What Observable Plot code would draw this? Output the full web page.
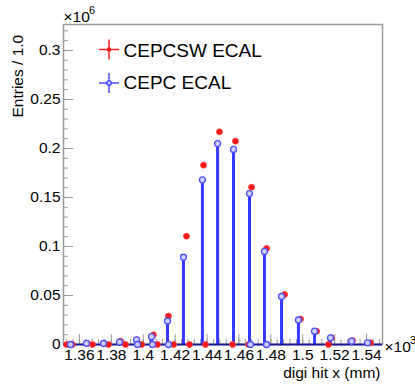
<!DOCTYPE html>
<html>
<head>
<meta charset="utf-8">
<script src="https://cdn.jsdelivr.net/npm/d3@7"></script>
<script src="https://cdn.jsdelivr.net/npm/@observablehq/plot@0.6"></script>
<style>
  html, body { margin: 0; padding: 0; background: #fff; }
  #chart { width: 415px; height: 385px; }
  svg { font-family: "Liberation Sans", Arial, Helvetica, sans-serif; }
</style>
</head>
<body>
<div id="chart"></div>
<script>
// ---- data (x in mm, y in entries) ----
const redX = [1351.9, 1355.6, 1365.0, 1368.2, 1375.1, 1378.2, 1385.7, 1388.9, 1395.8, 1399.0,
              1406.4, 1408.9, 1415.8, 1419.0, 1427.1, 1429.0, 1437.8, 1439.0, 1447.8, 1456.0,
              1457.8, 1466.0, 1467.9, 1477.3, 1488.6, 1498.6, 1508.7, 1516.1, 1518.0, 1531.2, 1542.5];
const redY = [0, 0, 1000, 0, 1200, 0, 3400, 0, 4800, 0,
              9900, 0, 29000, 0, 110500, 0, 183000, 0, 217000, 0,
              207500, 0, 160500, 98000, 51000, 26000, 13600, 0, 6800, 4000, 1700];

const blueX = [1354.4, 1364.4, 1375.1, 1385.1, 1395.8, 1396.4, 1405.2, 1405.8, 1415.2, 1415.8,
               1425.2, 1437.1, 1446.6, 1456.6, 1466.6, 1467.2, 1476.0, 1477.3, 1486.7, 1497.3,
               1507.4, 1517.4, 1530.6, 1540.6];
const blueY = [0, 1200, 1000, 2500, 4800, 0, 8000, 0, 24000, 0,
               89000, 168000, 205000, 199000, 154000, 0, 95000, 0, 49000, 25000,
               13600, 6800, 3400, 1700];

const xMajorTicks = d3.range(1360, 1541, 20);
const xMinorTicks = d3.range(1352, 1551, 4);
const yMajorTicks = d3.range(0, 300001, 50000);
const yMinorTicks = d3.range(0, 320001, 10000);
const seriesNames = ["CEPCSW ECAL", "CEPC ECAL"];
const xTitle = "digi hit x (mm)";
const yTitle = "Entries / 1.0";

const red = redX.map((x, i) => ({x, y: redY[i]}));
const blue = blueX.map((x, i) => ({x, y: blueY[i]}));

const cross = {
  draw(context, size) {
    const r = Math.sqrt(size / Math.PI);
    context.moveTo(-r, 0); context.lineTo(r, 0);
    context.moveTo(0, -r); context.lineTo(0, r);
  }
};

const FS = 15.5;
const grey = "#9a9a9a";

const plot = Plot.plot({
  width: 415,
  height: 385,
  marginLeft: 63,
  marginRight: 33,
  marginTop: 24,
  marginBottom: 41,
  style: {fontFamily: "Liberation Sans, Arial, Helvetica, sans-serif", background: "#fff"},
  x: {domain: [1350, 1550], axis: null},
  y: {domain: [0, 326500], axis: null},
  marks: [
    Plot.frame({stroke: grey, strokeWidth: 1.5}),
    // ticks (inside)
    Plot.axisX(xMinorTicks, {anchor: "bottom", tickSize: -5, tickFormat: () => "", stroke: grey, label: null}),
    Plot.axisX(xMajorTicks, {anchor: "bottom", tickSize: -10, tickFormat: () => "", stroke: grey, label: null}),
    Plot.axisY(yMinorTicks, {anchor: "left", tickSize: -5, tickFormat: () => "", stroke: grey, label: null}),
    Plot.axisY(yMajorTicks, {anchor: "left", tickSize: -10, tickFormat: () => "", stroke: grey, label: null}),
    // tick labels
    Plot.axisX(xMajorTicks, {anchor: "bottom", tickSize: 0, tickPadding: 4, fontSize: FS, fill: "#000",
      tickFormat: d => String(+(d / 1000).toFixed(2)), label: null}),
    Plot.axisY(yMajorTicks, {anchor: "left", tickSize: 0, tickPadding: 3, fontSize: FS, fill: "#000",
      tickFormat: d => d === 0 ? "0" : String(+(d / 1e6).toFixed(2)), label: null}),
    // blue histogram spikes
    Plot.ruleX(blue.filter(d => d.y > 0), {x: "x", y1: 0, y2: "y", stroke: "#3838ff", strokeWidth: 3}),
    Plot.ruleY([0], {stroke: "#1a1a99", strokeWidth: 2}),
    // red markers
    Plot.dot(red, {x: "x", y: "y", r: 3, fill: "#ff1515", stroke: "#ff4040", strokeWidth: 0.8}),
    // blue markers
    Plot.dot(blue, {x: "x", y: "y", r: 3, fill: "#cfcfff", stroke: "#4f4fff", strokeWidth: 1.3}),
    // exponent labels
    Plot.text(["×10"], {frameAnchor: "top-left", dx: 0, dy: -3, textAnchor: "start", lineAnchor: "bottom", fontSize: FS}),
    Plot.text(["6"], {frameAnchor: "top-left", dx: 25.5, dy: -11, textAnchor: "start", lineAnchor: "bottom", fontSize: 11}),
    Plot.text(["×10"], {frameAnchor: "bottom-right", dx: 2, dy: 7, textAnchor: "start", lineAnchor: "bottom", fontSize: FS}),
    Plot.text(["3"], {frameAnchor: "bottom-right", dx: 27.5, dy: -1, textAnchor: "start", lineAnchor: "bottom", fontSize: 11}),
    // axis titles
    Plot.text([xTitle], {frameAnchor: "bottom-right", dx: -2, dy: 33, textAnchor: "end", lineAnchor: "bottom", fontSize: FS}),
    Plot.text([yTitle], {frameAnchor: "top-left", dx: -45, dy: 93, textAnchor: "start", lineAnchor: "middle", rotate: -90, fontSize: FS}),
    // legend
    Plot.dot([0], {frameAnchor: "top-left", dx: 45.5, dy: 25, symbol: cross, r: 10, stroke: "#ff2020", strokeWidth: 1.5}),
    Plot.dot([0], {frameAnchor: "top-left", dx: 45.5, dy: 25, r: 2.2, fill: "#ff1515"}),
    Plot.text([seriesNames[0]], {frameAnchor: "top-left", dx: 60, dy: 26, textAnchor: "start", lineAnchor: "middle", fontSize: 19}),
    Plot.dot([0], {frameAnchor: "top-left", dx: 45.5, dy: 58.5, symbol: cross, r: 10, stroke: "#4a4aff", strokeWidth: 1.5}),
    Plot.dot([0], {frameAnchor: "top-left", dx: 45.5, dy: 58.5, r: 2.2, fill: "#cfcfff", stroke: "#4f4fff"}),
    Plot.text([seriesNames[1]], {frameAnchor: "top-left", dx: 60, dy: 58.2, textAnchor: "start", lineAnchor: "middle", fontSize: 19})
  ]
});
document.getElementById("chart").appendChild(plot);
</script>
</body>
</html>
